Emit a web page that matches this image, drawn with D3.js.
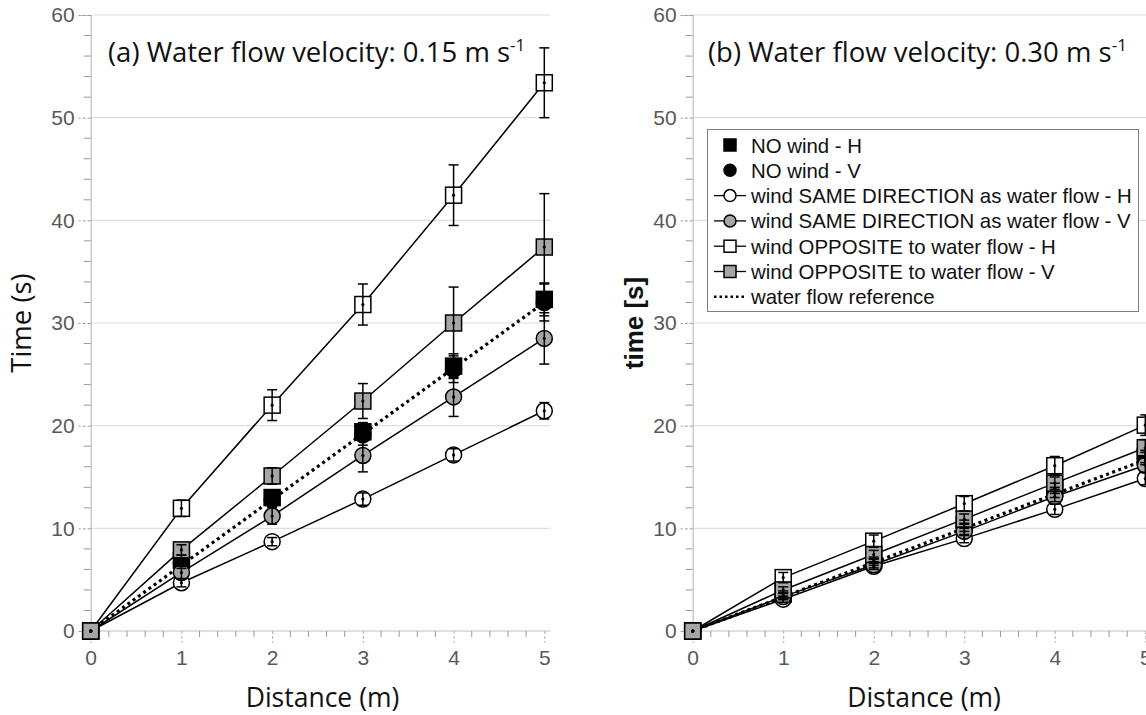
<!DOCTYPE html>
<html>
<head>
<meta charset="utf-8">
<script src="https://cdn.jsdelivr.net/npm/d3@7/dist/d3.min.js"></script>
<style>
  html, body { margin: 0; padding: 0; background: #fff; overflow: hidden; }
  svg { display: block; }
</style>
</head>
<body>
<svg id="chart" width="1146" height="715"></svg>
<script>
// Distance along the channel (m)
const distance = [0, 1, 2, 3, 4, 5];
const xTicks = [0, 1, 2, 3, 4, 5];
const yTicks = [0, 10, 20, 30, 40, 50, 60];

// Panel (a): water flow velocity 0.15 m/s — mean travel time (s) and error
const aNoWindH = [0, 6.9, 13.0, 19.4, 25.8, 32.3];
const aNoWindHErr = [0, 0.5, 0.6, 0.9, 1.2, 1.6];
const aNoWindV = [0, 6.6, 12.8, 19.1, 25.5, 32.0];
const aNoWindVErr = [0, 0.5, 0.6, 1.0, 1.3, 1.8];
const aSameH = [0, 4.7, 8.7, 12.85, 17.15, 21.45];
const aSameHErr = [0, 0.4, 0.4, 0.6, 0.6, 0.8];
const aSameV = [0, 5.7, 11.2, 17.1, 22.8, 28.5];
const aSameVErr = [0, 0.6, 0.8, 1.6, 1.9, 2.5];
const aOppH = [0, 11.95, 22.0, 31.8, 42.45, 53.4];
const aOppHErr = [0, 0.8, 1.5, 2.0, 2.95, 3.4];
const aOppV = [0, 7.9, 15.1, 22.4, 30.0, 37.4];
const aOppVErr = [0, 0.5, 0.8, 1.7, 3.5, 5.2];
const aReference = [0, 6.4, 12.8, 19.2, 25.6, 32.0];

// Panel (b): water flow velocity 0.30 m/s
const bNoWindH = [0, 3.6, 6.9, 10.4, 13.9, 17.0];
const bNoWindHErr = [0, 0.3, 0.3, 0.4, 0.5, 0.6];
const bNoWindV = [0, 3.4, 6.7, 10.1, 13.5, 16.8];
const bNoWindVErr = [0, 0.3, 0.3, 0.4, 0.5, 0.6];
const bSameH = [0, 3.1, 6.3, 9.0, 11.85, 14.85];
const bSameHErr = [0, 0.3, 0.3, 0.4, 0.5, 0.6];
const bSameV = [0, 3.35, 6.45, 9.7, 13.1, 16.15];
const bSameVErr = [0, 0.3, 0.3, 0.4, 0.5, 0.7];
const bOppH = [0, 5.2, 8.75, 12.4, 16.1, 20.05];
const bOppHErr = [0, 0.5, 0.6, 0.7, 0.9, 1.0];
const bOppV = [0, 4.0, 7.45, 10.9, 14.4, 17.85];
const bOppVErr = [0, 0.3, 0.4, 0.5, 0.6, 0.8];
const bReference = [0, 3.33, 6.67, 10.0, 13.33, 16.67];

const legendLabels = [
  "NO wind - H",
  "NO wind - V",
  "wind SAME DIRECTION as water flow - H",
  "wind SAME DIRECTION as water flow - V",
  "wind OPPOSITE to water flow - H",
  "wind OPPOSITE to water flow - V",
  "water flow reference"
];

// Marker style per series: shape, fill, whether a connecting line is drawn
const seriesStyle = [
  { shape: "square", fill: "#000", line: false },
  { shape: "circle", fill: "#000", line: false },
  { shape: "circle", fill: "#fff", line: true },
  { shape: "circle", fill: "#a6a6a6", line: true },
  { shape: "square", fill: "#fff", line: true },
  { shape: "square", fill: "#a6a6a6", line: true }
];

const panels = [
  {
    left: 90.7, right: 544.3,
    title: "(a) Water flow velocity: 0.15 m s", titleX: 108,
    yTitle: "Time (s)", yTitleX: 31, yTitleFont: "'Open Sans', sans-serif", yTitleWeight: 400, yTitleSize: 27.5,
    series: [
      [aNoWindH, aNoWindHErr], [aNoWindV, aNoWindVErr],
      [aSameH, aSameHErr], [aSameV, aSameVErr],
      [aOppH, aOppHErr], [aOppV, aOppVErr]
    ],
    reference: aReference, legend: false
  },
  {
    left: 692.7, right: 1145.3,
    title: "(b) Water flow velocity: 0.30 m s", titleX: 708,
    yTitle: "time [s]", yTitleX: 643, yTitleFont: "'Liberation Sans', Arial, sans-serif", yTitleWeight: 700, yTitleSize: 26,
    series: [
      [bNoWindH, bNoWindHErr], [bNoWindV, bNoWindVErr],
      [bSameH, bSameHErr], [bSameV, bSameVErr],
      [bOppH, bOppHErr], [bOppV, bOppVErr]
    ],
    reference: bReference, legend: true
  }
];

const svg = d3.select("#chart");
const plotTop = 15, plotBottom = 631;
const axisGrey = "#bfbfbf";
const tickFont = "'Liberation Sans', Arial, sans-serif";

function drawMarker(g, shape, fill, cx, cy, size) {
  if (shape === "square") {
    g.append("rect")
      .attr("x", cx - size / 2).attr("y", cy - size / 2)
      .attr("width", size).attr("height", size)
      .attr("fill", fill).attr("stroke", "#000").attr("stroke-width", 1.5);
  } else {
    g.append("circle")
      .attr("cx", cx).attr("cy", cy).attr("r", size / 2)
      .attr("fill", fill).attr("stroke", "#000").attr("stroke-width", 1.5);
  }
}

panels.forEach(p => {
  const x = d3.scaleLinear().domain([0, 5]).range([p.left, p.right]);
  const y = d3.scaleLinear().domain([0, 60]).range([plotBottom, plotTop]);
  const g = svg.append("g");
  const plotEnd = p.right + 6;

  // horizontal gridlines
  g.append("g").selectAll("line")
    .data(yTicks.filter(v => v > 0))
    .join("line")
    .attr("x1", p.left).attr("x2", plotEnd)
    .attr("y1", d => y(d)).attr("y2", d => y(d))
    .attr("stroke", "#dedede").attr("stroke-width", 1.2);

  // y axis: major ticks every 10, minor every 2
  const yAxis = d3.axisLeft(y).tickValues(yTicks).tickSize(12).tickPadding(4);
  const yg = g.append("g").attr("transform", `translate(${p.left},0)`).call(yAxis);
  yg.select(".domain").attr("stroke", axisGrey).attr("stroke-width", 1.2);
  yg.selectAll(".tick line").attr("stroke", "#9a9a9a").attr("stroke-dasharray", "3,2");
  yg.selectAll(".tick text").attr("font-family", tickFont).attr("font-size", 21).attr("fill", "#595959");
  const yMinor = d3.range(0, 61, 2).filter(v => v % 10 !== 0);
  g.append("g").selectAll("line").data(yMinor).join("line")
    .attr("x1", p.left - 7).attr("x2", p.left)
    .attr("y1", d => y(d)).attr("y2", d => y(d))
    .attr("stroke", "#9a9a9a").attr("stroke-width", 1);

  // x axis: major ticks every 1, minor every 0.2
  const xAxis = d3.axisBottom(x).tickValues(xTicks).tickSize(12).tickPadding(7).tickFormat(d3.format("d"));
  const xg = g.append("g").attr("transform", `translate(0,${plotBottom})`).call(xAxis);
  xg.select(".domain").remove();
  xg.selectAll(".tick line").attr("stroke", "#b0b0b0").attr("stroke-dasharray", "3,2");
  xg.selectAll(".tick text").attr("font-family", tickFont).attr("font-size", 21).attr("fill", "#595959");
  g.append("line").attr("x1", p.left).attr("x2", plotEnd)
    .attr("y1", plotBottom).attr("y2", plotBottom)
    .attr("stroke", axisGrey).attr("stroke-width", 1.2);
  const xMinor = d3.range(1, 26).map(i => i / 5).filter(v => Math.abs(v - Math.round(v)) > 1e-6);
  g.append("g").selectAll("line").data(xMinor).join("line")
    .attr("x1", d => x(d)).attr("x2", d => x(d))
    .attr("y1", plotBottom).attr("y2", plotBottom + 6)
    .attr("stroke", "#9a9a9a").attr("stroke-width", 1);

  // axis titles
  g.append("text")
    .attr("x", (p.left + p.right) / 2 + 5).attr("y", 707)
    .attr("text-anchor", "middle")
    .attr("font-family", "'Open Sans', sans-serif").attr("font-size", 26.5)
    .attr("fill", "#111").text("Distance (m)");
  g.append("text")
    .attr("transform", `translate(${p.yTitleX},${(plotTop + plotBottom) / 2}) rotate(-90)`)
    .attr("text-anchor", "middle")
    .attr("font-family", p.yTitleFont).attr("font-weight", p.yTitleWeight)
    .attr("font-size", p.yTitleSize).attr("fill", "#111").text(p.yTitle);

  // panel title with superscript unit exponent
  const t = g.append("text")
    .attr("x", p.titleX).attr("y", 62)
    .attr("font-family", "'Open Sans', sans-serif").attr("font-size", 27.5)
    .attr("fill", "#111");
  t.append("tspan").text(p.title);
  t.append("tspan").attr("dy", -11).attr("font-size", 17).text("-1");

  // connecting lines
  const line = d3.line().x((d, i) => x(distance[i])).y(d => y(d));
  p.series.forEach(([vals], k) => {
    if (!seriesStyle[k].line) return;
    g.append("path").datum(vals)
      .attr("d", line).attr("fill", "none")
      .attr("stroke", "#000").attr("stroke-width", 1.5);
  });
  g.append("path").datum(p.reference)
    .attr("d", line).attr("fill", "none")
    .attr("stroke", "#000").attr("stroke-width", 3.2)
    .attr("stroke-dasharray", "3,3.5");

  // markers
  p.series.forEach(([vals], k) => {
    const s = seriesStyle[k];
    vals.forEach((v, i) => drawMarker(g, s.shape, s.fill, x(distance[i]), y(v), 16));
  });

  // error bars with caps and centre dot
  p.series.forEach(([vals, errs]) => {
    vals.forEach((v, i) => {
      const cx = x(distance[i]);
      if (errs[i] > 0) {
        g.append("line").attr("x1", cx).attr("x2", cx)
          .attr("y1", y(v - errs[i])).attr("y2", y(v + errs[i]))
          .attr("stroke", "#000").attr("stroke-width", 1.5);
        [v - errs[i], v + errs[i]].forEach(e => {
          g.append("line").attr("x1", cx - 5).attr("x2", cx + 5)
            .attr("y1", y(e)).attr("y2", y(e))
            .attr("stroke", "#000").attr("stroke-width", 1.5);
        });
      }
      g.append("circle").attr("cx", cx).attr("cy", y(v)).attr("r", 1.6).attr("fill", "#000");
    });
  });

  // legend
  if (p.legend) {
    const lx = 707.5, ly = 129.5, lw = 431, lh = 182;
    const lg = svg.append("g");
    lg.append("rect").attr("x", lx).attr("y", ly).attr("width", lw).attr("height", lh)
      .attr("fill", "#fff").attr("stroke", "#7f7f7f").attr("stroke-width", 1);
    legendLabels.forEach((label, i) => {
      const cy = 145 + i * 25.3;
      const mx = 730;
      if (i < 6) {
        const s = seriesStyle[i];
        if (s.line) {
          lg.append("line").attr("x1", 714).attr("x2", 746).attr("y1", cy).attr("y2", cy)
            .attr("stroke", "#000").attr("stroke-width", 1.3);
        }
        drawMarker(lg, s.shape, s.fill, mx, cy, 12);
      } else {
        lg.append("line").attr("x1", 714).attr("x2", 746).attr("y1", cy).attr("y2", cy)
          .attr("stroke", "#000").attr("stroke-width", 2.5).attr("stroke-dasharray", "2.5,3");
      }
      lg.append("text").attr("x", 751).attr("y", cy + 7.5)
        .attr("font-family", tickFont).attr("font-size", 20.4)
        .attr("fill", "#111").text(label);
    });
  }
});
</script>
</body>
</html>
